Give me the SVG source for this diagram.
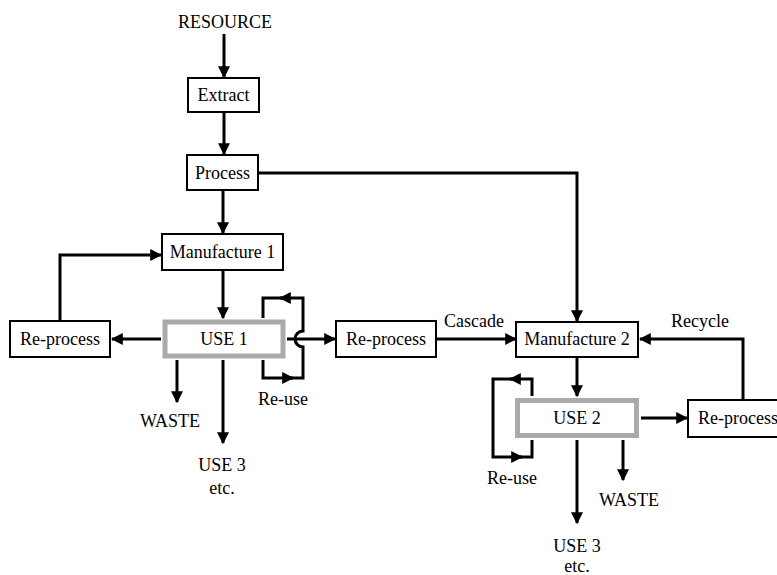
<svg xmlns="http://www.w3.org/2000/svg" width="777" height="575" viewBox="0 0 777 575">
<style>
text{font-family:"Liberation Serif","Times New Roman",serif;font-size:18px;fill:#000;text-anchor:middle}
.box{fill:#fff;stroke:#000;stroke-width:2}
.use{fill:#fff;stroke:#aaa;stroke-width:5}
.c{fill:none;stroke:#000;stroke-width:3}
</style>
<defs>
<marker id="ah" viewBox="0 0 10 10" refX="9" refY="5" markerWidth="4" markerHeight="4" markerUnits="strokeWidth" orient="auto">
<path d="M0,0L10,5L0,10z" fill="#000"/>
</marker>
</defs>
<g id="connectors">
<path class="c" d="M224,34V77" marker-end="url(#ah)"/>
<path class="c" d="M224,112V154" marker-end="url(#ah)"/>
<path class="c" d="M223,190V233" marker-end="url(#ah)"/>
<path class="c" d="M258,173H577V321" marker-end="url(#ah)"/>
<path class="c" d="M60,321V255H161" marker-end="url(#ah)"/>
<path class="c" d="M223,270V318" marker-end="url(#ah)"/>
<path class="c" d="M161,339H112" marker-end="url(#ah)"/>
<path class="c" d="M177,360V402" marker-end="url(#ah)"/>
<path class="c" d="M223,360V443" marker-end="url(#ah)"/>
<path class="c" d="M263,360V378H293" marker-end="url(#ah)"/>
<path class="c" d="M290,378H303V347A8,8 0 0 1 303,331V298H280" marker-end="url(#ah)"/>
<path class="c" d="M283,298H263V318"/>
<path class="c" d="M287,339H335" marker-end="url(#ah)"/>
<path class="c" d="M436,339H516" marker-end="url(#ah)"/>
<path class="c" d="M577,357V396" marker-end="url(#ah)"/>
<path class="c" d="M641,418H687" marker-end="url(#ah)"/>
<path class="c" d="M743,400V339H640" marker-end="url(#ah)"/>
<path class="c" d="M532,396V379H510" marker-end="url(#ah)"/>
<path class="c" d="M513,379H493V457H522" marker-end="url(#ah)"/>
<path class="c" d="M519,457H532V440"/>
<path class="c" d="M623,440V480" marker-end="url(#ah)"/>
<path class="c" d="M577,440V523" marker-end="url(#ah)"/>
</g>
<g id="resource"><text x="225" y="28">RESOURCE</text></g>
<g id="extract"><rect class="box" x="188" y="78" width="71" height="34"/><text x="223.5" y="101">Extract</text></g>
<g id="process"><rect class="box" x="187" y="155" width="71" height="35"/><text x="222.5" y="179">Process</text></g>
<g id="manufacture1"><rect class="box" x="162" y="234" width="121" height="36"/><text x="222.5" y="258">Manufacture 1</text></g>
<g id="reprocess1"><rect class="box" x="10" y="321" width="100" height="36"/><text x="60" y="345">Re-process</text></g>
<g id="use1"><rect class="use" x="165" y="322" width="118" height="34"/><text x="224" y="345">USE 1</text></g>
<g id="waste1"><text x="170" y="427">WASTE</text></g>
<g id="use3a"><text x="222" y="471">USE 3</text><text x="222" y="494">etc.</text></g>
<g id="reuse1"><text x="283" y="405">Re-use</text></g>
<g id="reprocess2"><rect class="box" x="336" y="321" width="100" height="36"/><text x="386" y="345">Re-process</text></g>
<g id="cascade"><text x="474" y="327">Cascade</text></g>
<g id="manufacture2"><rect class="box" x="516" y="322" width="122" height="35"/><text x="577" y="345">Manufacture 2</text></g>
<g id="recycle"><text x="700" y="327">Recycle</text></g>
<g id="use2"><rect class="use" x="517.5" y="400.5" width="119" height="35"/><text x="577" y="424">USE 2</text></g>
<g id="reprocess3"><rect class="box" x="688" y="400" width="100" height="37"/><text x="738" y="424">Re-process</text></g>
<g id="reuse2"><text x="512" y="484">Re-use</text></g>
<g id="waste2"><text x="629" y="506">WASTE</text></g>
<g id="use3b"><text x="577" y="552">USE 3</text><text x="577" y="572">etc.</text></g>
</svg>
